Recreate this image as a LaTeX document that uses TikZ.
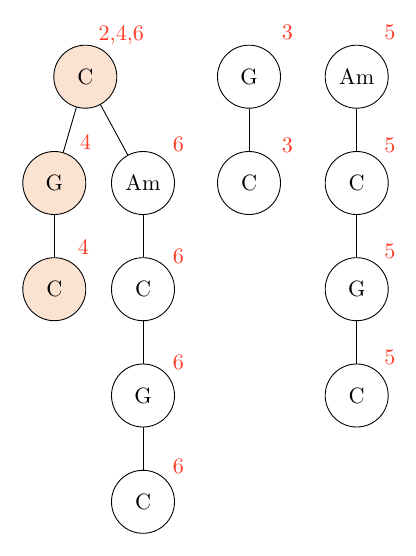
\documentclass[tikz,border=0pt]{standalone}
\usetikzlibrary{calc}
\definecolor{NumClr}{rgb}{1,0.23,0.15}
\definecolor{PathClr}{rgb}{0.99,0.89,0.82}

\begin{document}
\begin{tikzpicture}[x=0.015873cm,y=-0.015873cm]
\tikzset{chord/.style={circle,draw,minimum size=1cm,inner sep=0pt},
  hit/.style={chord,fill=PathClr},
  num/.style={text=NumClr}}
\useasboundingbox (0,0) rectangle (415,556);

% first tree
\node[hit] (c0) at (85.3,76.7) {C};
\node[hit] (g1) at (54.3,183) {G};
\node[hit] (c1) at (54.3,289.2) {C};
\node[chord] (am2) at (143,183) {Am};
\node[chord] (c2) at (143,289.2) {C};
\node[chord] (g2) at (143,395.5) {G};
\node[chord] (c3) at (143,501.8) {C};

% second tree
\node[chord] (g4) at (249,76.7) {G};
\node[chord] (c4) at (249,183) {C};

% third tree
\node[chord] (am5) at (356.7,76.7) {Am};
\node[chord] (c5) at (356.7,183) {C};
\node[chord] (g5) at (356.7,289.2) {G};
\node[chord] (c6) at (356.7,395.5) {C};

\draw (c0) -- (g1) (c0) -- (am2);
\draw (g1) -- (c1);
\draw (am2) -- (c2) -- (g2) -- (c3);
\draw (g4) -- (c4);
\draw (am5) -- (c5) -- (g5) -- (c6);

% counts
\node[num] (n0) at (121.3,35) {2,4,6};
\node[num] (n1) at (85.7,141.7) {4};
\node[num] (n2) at (83.3,247.3) {4};
\node[num] (n3) at (178.3,144) {6};
\node[num] (n4) at (178.3,256.7) {6};
\node[num] (n5) at (178.3,362) {6};
\node[num] (n6) at (178.3,466) {6};
\node[num] (n7) at (287.3,32.7) {3};
\node[num] (n8) at (287.3,145) {3};
\node[num] (n9) at (390,32.7) {5};
\node[num] (n10) at (390,145) {5};
\node[num] (n11) at (390,251) {5};
\node[num] (n12) at (390,357) {5};

\end{tikzpicture}
\end{document}
